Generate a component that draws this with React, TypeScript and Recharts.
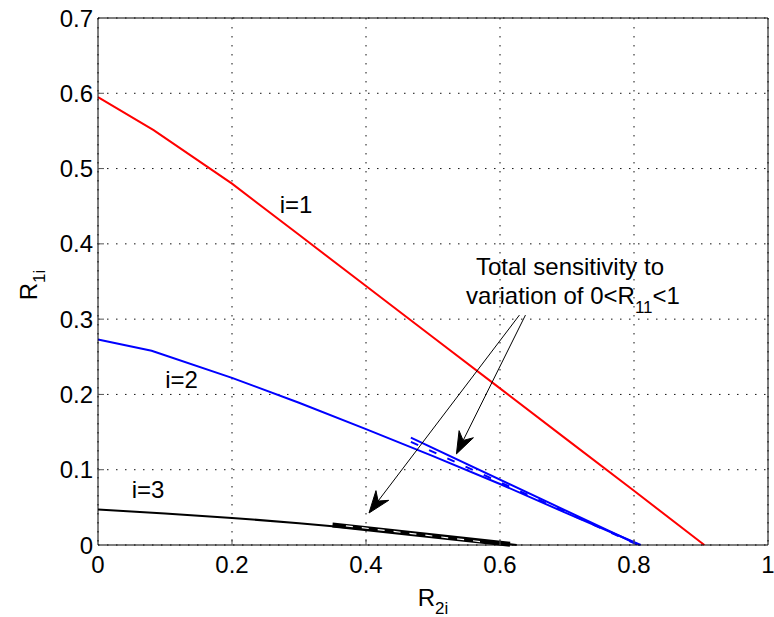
import React from "react";
import { LineChart, Line, XAxis, YAxis, CartesianGrid, ReferenceLine, ReferenceDot } from "recharts";

const xTicks = [0, 0.2, 0.4, 0.6, 0.8, 1];
const yTicks = [0, 0.1, 0.2, 0.3, 0.4, 0.5, 0.6, 0.7];

// i=1
const r2_1 = [0, 0.083, 0.2, 0.3, 0.4, 0.5, 0.6, 0.7, 0.8, 0.905];
const r1_1 = [0.595, 0.551, 0.48, 0.412, 0.344, 0.276, 0.208, 0.14, 0.072, 0];
// i=2
const r2_2 = [0, 0.08, 0.2, 0.3, 0.4, 0.5, 0.6, 0.7, 0.81];
const r1_2 = [0.273, 0.258, 0.222, 0.189, 0.154, 0.118, 0.081, 0.042, 0];
// i=3
const r2_3 = [0, 0.1, 0.2, 0.3, 0.4, 0.5, 0.625];
const r1_3 = [0.047, 0.042, 0.036, 0.029, 0.021, 0.012, 0];

// sensitivity bands
const bandBlueX = [0.467, 0.805];
const bandBlueTop = [0.1425, 0.001];
const bandBlueMid = [0.137, 0.0005];
const bandBlackX = [0.35, 0.615];
const bandBlackTop = [0.0265, 0.001];
const bandBlackMidX = [0.37, 0.58];
const bandBlackMid = [0.0255, 0.0035];

// annotation arrows: [startX, startY, tipX, tipY]
const arrow1 = [0.629, 0.3054, 0.4045, 0.0425];
const arrow2 = [0.638, 0.3054, 0.535, 0.121];

const curveLabels = [
  { text: "i=1", x: 0.2955, y: 0.4413 },
  { text: "i=2", x: 0.1246, y: 0.2085 },
  { text: "i=3", x: 0.0746, y: 0.0624 },
];

const font = '"Liberation Sans", Arial, Helvetica, sans-serif';

const pts = (xs: number[], ys: number[]) => xs.map((x, i) => ({ x, y: ys[i] }));

const XTick = (props: any) => {
  const { x, y, payload } = props;
  const ay = y - 11;
  const v = payload.value;
  return (
    <g>
      {v > 0 && v < 1 && <line x1={x} y1={ay} x2={x} y2={ay - 6} stroke="#555" />}
      <text x={x} y={y} dy="0.71em" textAnchor="middle" fontSize={24} fontFamily={font} fill="#000">
        {String(v)}
      </text>
    </g>
  );
};

const YTick = (props: any) => {
  const { x, y, payload } = props;
  const ax = x + 5;
  const v = payload.value;
  return (
    <g>
      {v > 0 && v < 0.7 && <line x1={ax} y1={y} x2={ax + 6} y2={y} stroke="#555" />}
      <text x={x} y={y} dy="0.36em" textAnchor="end" fontSize={24} fontFamily={font} fill="#000">
        {String(v)}
      </text>
    </g>
  );
};

const Arrow = (props: any) => {
  const { x1, y1, x2, y2 } = props;
  const a = Math.atan2(y2 - y1, x2 - x1);
  const c = Math.cos(a);
  const s = Math.sin(a);
  const len = 22;
  const half = 8;
  const notch = 15;
  const bx = x2 - len * c;
  const by = y2 - len * s;
  const nx = x2 - notch * c;
  const ny = y2 - notch * s;
  const d = `M${x2},${y2} L${bx - s * half},${by + c * half} L${nx},${ny} L${bx + s * half},${by - c * half} Z`;
  return (
    <g>
      <line x1={x1} y1={y1} x2={nx} y2={ny} stroke="#000" strokeWidth={1} />
      <path d={d} fill="#000" stroke="#000" strokeWidth={1} />
    </g>
  );
};

const XLabel = (props: any) => {
  const { viewBox } = props;
  const cx = viewBox.x + viewBox.width / 2;
  return (
    <text x={cx} y={606} textAnchor="middle" fontFamily={font} fontSize={24} fill="#000">
      R
      <tspan fontSize={17} dy={8}>2i</tspan>
    </text>
  );
};

export default function App() {
  return (
    <div style={{ position: "absolute", left: 0, top: 0, width: 774, height: 617, background: "#fff" }}>
      <LineChart width={774} height={617} margin={{ top: 18, right: 6, left: 0, bottom: 0 }}>
        <CartesianGrid stroke="#111" strokeDasharray="1.5 7.5" />
        <XAxis
          dataKey="x"
          type="number"
          domain={[0, 1]}
          ticks={xTicks}
          height={72}
          tickSize={0}
          tickMargin={11}
          tick={<XTick />}
          axisLine={{ stroke: "#000" }}
          label={<XLabel />}
        />
        <YAxis
          type="number"
          domain={[0, 0.7]}
          ticks={yTicks}
          width={98}
          tickSize={0}
          tickMargin={5}
          tick={<YTick />}
          axisLine={{ stroke: "#000" }}
        />
        <ReferenceLine y={0.7} stroke="#000" />
        <ReferenceLine x={1} stroke="#000" />

        <Line data={pts(r2_1, r1_1)} dataKey="y" type="linear" stroke="#ff0000" strokeWidth={2} dot={false} isAnimationActive={false} />
        <Line data={pts(r2_2, r1_2)} dataKey="y" type="linear" stroke="#0000ff" strokeWidth={2} dot={false} isAnimationActive={false} />
        <Line data={pts(r2_3, r1_3)} dataKey="y" type="linear" stroke="#000" strokeWidth={2} dot={false} isAnimationActive={false} />

        <Line data={pts(bandBlueX, bandBlueTop)} dataKey="y" type="linear" stroke="#0000ff" strokeWidth={2} dot={false} isAnimationActive={false} />
        <Line data={pts(bandBlueX, bandBlueMid)} dataKey="y" type="linear" stroke="#0000ff" strokeWidth={2} strokeDasharray="8 12" dot={false} isAnimationActive={false} />
        <Line data={pts(bandBlackX, bandBlackTop)} dataKey="y" type="linear" stroke="#000" strokeWidth={5} dot={false} isAnimationActive={false} />
        <Line data={pts(bandBlackMidX, bandBlackMid)} dataKey="y" type="linear" stroke="#fff" strokeWidth={1.2} strokeDasharray="7 9" dot={false} isAnimationActive={false} />

        <ReferenceLine segment={[{ x: arrow1[0], y: arrow1[1] }, { x: arrow1[2], y: arrow1[3] }]} shape={<Arrow />} />
        <ReferenceLine segment={[{ x: arrow2[0], y: arrow2[1] }, { x: arrow2[2], y: arrow2[3] }]} shape={<Arrow />} />

        {curveLabels.map((l) => (
          <ReferenceDot
            key={l.text}
            x={l.x}
            y={l.y}
            r={0}
            shape={(p: any) => (
              <text x={p.cx} y={p.cy} textAnchor="middle" fontFamily={font} fontSize={24} fill="#000">
                {l.text}
              </text>
            )}
          />
        ))}

        <ReferenceDot
          x={0.7045}
          y={0.3586}
          r={0}
          shape={(p: any) => (
            <g>
              <text x={p.cx} y={p.cy} textAnchor="middle" fontFamily={font} fontSize={24} fill="#000">
                Total sensitivity to
              </text>
              <text x={p.cx + 3} y={p.cy + 29} textAnchor="middle" fontFamily={font} fontSize={24} fill="#000">
                variation of 0&lt;R
                <tspan fontSize={17} dy={9}>11</tspan>
                <tspan dy={-9}>&lt;1</tspan>
              </text>
            </g>
          )}
        />

        <ReferenceDot
          x={0}
          y={0.7}
          r={0}
          ifOverflow="visible"
          shape={() => (
            <text transform="translate(37,285) rotate(-90)" fontFamily={font} fontSize={24} fill="#000" textAnchor="middle">
              R
              <tspan fontSize={17} dy={8}>1i</tspan>
            </text>
          )}
        />
      </LineChart>
    </div>
  );
}
